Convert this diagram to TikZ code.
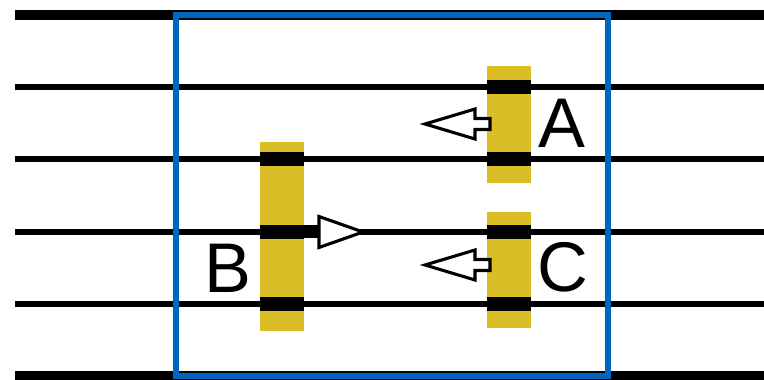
\documentclass[tikz,border=0pt]{standalone}
\usepackage{fontspec}
\setmainfont{Liberation Sans}
\usepackage{xcolor}
\usetikzlibrary{positioning}

\definecolor{rodyellow}{RGB}{219,190,38}
\definecolor{frameblue}{RGB}{0,102,194}

\begin{document}
\begin{tikzpicture}[
  x=0.025cm, y=-0.025cm,
  wire/.style={black, line width=3.6pt},
  railwire/.style={black, line width=7.1pt},
  window/.style={draw=frameblue, line width=4.3pt},
  rod/.style={fill=rodyellow, inner sep=0pt, minimum width=1.1cm},
  band/.style={fill=black, inner sep=0pt, minimum width=1.1cm, minimum height=0.37cm},
  hollow/.style={draw=black, fill=white, line width=2.2pt, line join=miter},
  tag/.style={font=\fontsize{50}{50}\selectfont, inner sep=0pt}
]
\useasboundingbox (0,0) rectangle (764,380);

% Leitungen: aussen dick, innen duenn
\draw[railwire] (15,15) -- (764,15);
\draw[railwire] (15,376) -- (764,376);
\foreach \y in {87,159,232,304} {
  \draw[wire] (15,\y) -- (764,\y);
}

% Fenster
\draw[window] (176,15) rectangle (608,376);

% Stäbe
\node[rod, minimum height=2.925cm] (rodA) at (509,124.5) {};
\node[rod, minimum height=4.725cm] (rodB) at (282,236.5) {};
\node[rod, minimum height=2.9cm]   (rodC) at (509,270) {};

% Kontaktstellen auf den Leitungen
\foreach \r/\y in {rodA/87, rodA/159, rodB/159, rodB/232, rodB/304, rodC/232, rodC/304} {
  \node[band, name=band-\r-\y] at (\r.center |- 0,\y) {};
}

% Bewegungspfeile
\coordinate (arrA) at (490,124);
\draw[hollow] (arrA) ++(0,-5.5) -- ++(-15,0) -- ++(0,-9.5) -- (425,124)
  -- (475,139) -- ++(0,-9.5) -- ++(15,0) -- cycle;

\coordinate (arrC) at (490,265);
\draw[hollow] (arrC) ++(0,-5.5) -- ++(-15,0) -- ++(0,-9.5) -- (425,265)
  -- (475,280) -- ++(0,-9.5) -- ++(15,0) -- cycle;

\coordinate (arrB) at (319,232);
\fill[black] (rodB.east |- 0,225.5) rectangle (321,238.5);
\draw[hollow] (arrB) ++(0,-15.5) -- (363,232) -- (319,247.5) -- cycle;

% Beschriftung
\node[tag] (labA) at (562,123) {A};
\node[tag] (labB) at (228,268) {B};
\node[tag] (labC) at (563,267) {C};

\end{tikzpicture}
\end{document}
